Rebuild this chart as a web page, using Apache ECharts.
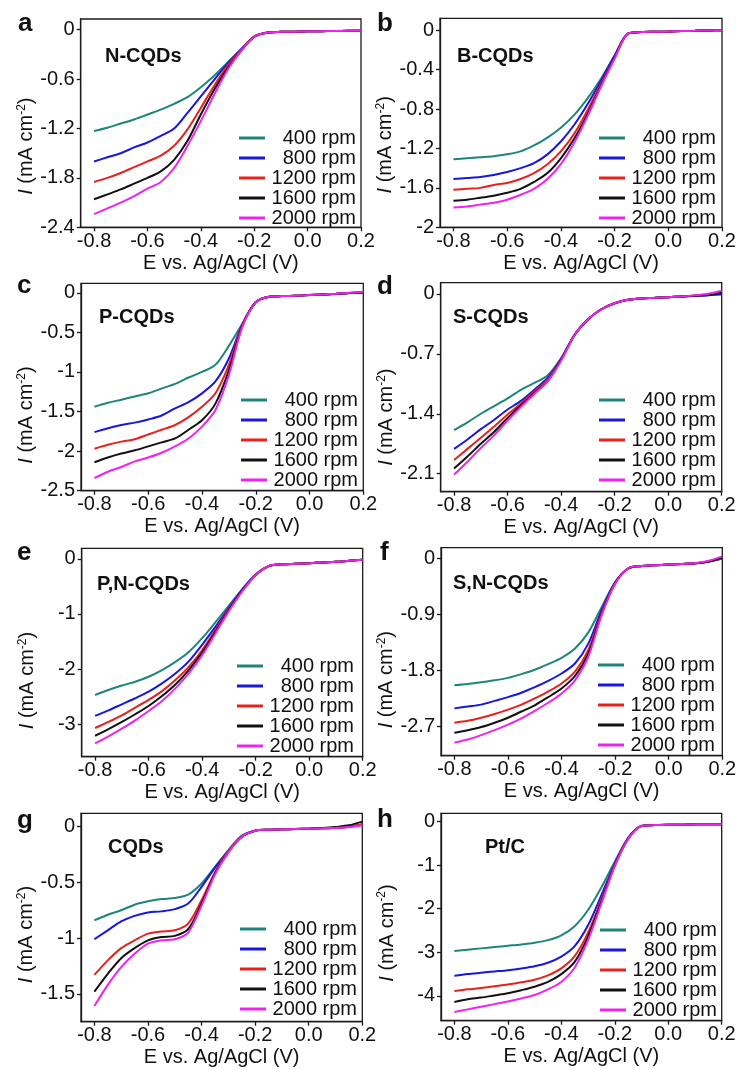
<!DOCTYPE html>
<html><head><meta charset="utf-8">
<script src="https://cdn.jsdelivr.net/npm/echarts@6/dist/echarts.min.js"></script>
<style>html,body{margin:0;padding:0;background:#fff}#c{width:740px;height:1070px}</style>
</head><body><div id="c"></div>
<script>
// ---------- data ----------
const E = [-0.8,-0.75,-0.7,-0.65,-0.6,-0.55,-0.5,-0.45,-0.4,-0.35,-0.3,-0.25,-0.2,-0.15,-0.1,-0.05,0,0.05,0.1,0.15,0.2];
const rpm = ['400 rpm','800 rpm','1200 rpm','1600 rpm','2000 rpm'];
const samples = ['N-CQDs','B-CQDs','P-CQDs','S-CQDs','P,N-CQDs','S,N-CQDs','CQDs','Pt/C'];
const letters = ['a','b','c','d','e','f','g','h'];
const xTicks = [-0.8,-0.6,-0.4,-0.2,0,0.2];
const yTicksA = [-2.4,-1.8,-1.2,-0.6,0];
const yTicksB = [-2,-1.6,-1.2,-0.8,-0.4,0];
const yTicksC = [-2.5,-2,-1.5,-1,-0.5,0];
const yTicksD = [-2.1,-1.4,-0.7,0];
const yTicksE = [-3,-2,-1,0];
const yTicksF = [-2.7,-1.8,-0.9,0];
const yTicksG = [-1.5,-1,-0.5,0];
const yTicksH = [-4,-3,-2,-1,0];

const a400  = [-1.23,-1.19,-1.14,-1.09,-1.03,-0.97,-0.90,-0.82,-0.70,-0.56,-0.40,-0.24,-0.085,-0.035,-0.026,-0.024,-0.020,-0.018,-0.016,-0.014,-0.012];
const a800  = [-1.60,-1.55,-1.50,-1.43,-1.37,-1.29,-1.20,-1.01,-0.81,-0.61,-0.41,-0.24,-0.085,-0.035,-0.026,-0.024,-0.020,-0.018,-0.016,-0.014,-0.012];
const a1200 = [-1.85,-1.80,-1.74,-1.67,-1.60,-1.53,-1.41,-1.21,-0.95,-0.68,-0.44,-0.25,-0.085,-0.035,-0.026,-0.024,-0.020,-0.018,-0.016,-0.014,-0.012];
const a1600 = [-2.06,-2.00,-1.94,-1.87,-1.80,-1.72,-1.58,-1.35,-1.03,-0.73,-0.47,-0.26,-0.085,-0.035,-0.026,-0.024,-0.020,-0.018,-0.016,-0.014,-0.012];
const a2000 = [-2.24,-2.17,-2.10,-2.02,-1.93,-1.85,-1.68,-1.41,-1.11,-0.79,-0.49,-0.26,-0.085,-0.035,-0.026,-0.024,-0.020,-0.018,-0.016,-0.014,-0.012];

const b400  = [-1.31,-1.30,-1.29,-1.28,-1.26,-1.23,-1.17,-1.09,-0.99,-0.86,-0.69,-0.49,-0.26,-0.035,-0.020,-0.017,-0.014,-0.010,-0.007,-0.003,0];
const b800  = [-1.51,-1.50,-1.49,-1.47,-1.44,-1.40,-1.35,-1.26,-1.13,-0.96,-0.75,-0.51,-0.26,-0.035,-0.020,-0.017,-0.014,-0.010,-0.007,-0.003,0];
const b1200 = [-1.62,-1.61,-1.60,-1.57,-1.55,-1.51,-1.45,-1.36,-1.23,-1.05,-0.81,-0.54,-0.28,-0.035,-0.020,-0.017,-0.014,-0.010,-0.007,-0.003,0];
const b1600 = [-1.73,-1.72,-1.70,-1.68,-1.65,-1.61,-1.54,-1.45,-1.30,-1.10,-0.85,-0.56,-0.28,-0.035,-0.020,-0.017,-0.014,-0.010,-0.007,-0.003,0];
const b2000 = [-1.80,-1.79,-1.77,-1.75,-1.72,-1.67,-1.61,-1.51,-1.36,-1.14,-0.87,-0.57,-0.29,-0.035,-0.020,-0.017,-0.014,-0.010,-0.007,-0.003,0];

const c400  = [-1.44,-1.39,-1.35,-1.31,-1.27,-1.21,-1.15,-1.07,-1.00,-0.91,-0.67,-0.39,-0.12,-0.05,-0.042,-0.038,-0.029,-0.021,-0.013,-0.004,0.004];
const c800  = [-1.76,-1.71,-1.67,-1.64,-1.60,-1.55,-1.46,-1.38,-1.27,-1.12,-0.83,-0.40,-0.12,-0.05,-0.042,-0.038,-0.029,-0.021,-0.013,-0.004,0.004];
const c1200 = [-1.97,-1.92,-1.88,-1.85,-1.79,-1.73,-1.67,-1.57,-1.44,-1.27,-0.91,-0.41,-0.12,-0.05,-0.042,-0.038,-0.029,-0.021,-0.013,-0.004,0.006];
const c1600 = [-2.14,-2.08,-2.03,-1.99,-1.94,-1.89,-1.84,-1.73,-1.61,-1.40,-0.98,-0.42,-0.12,-0.05,-0.042,-0.038,-0.029,-0.021,-0.013,-0.004,0.006];
const c2000 = [-2.34,-2.26,-2.20,-2.13,-2.08,-2.02,-1.94,-1.84,-1.69,-1.48,-1.04,-0.43,-0.12,-0.05,-0.042,-0.038,-0.029,-0.021,-0.012,0.000,0.012];

const d400  = [-1.59,-1.50,-1.40,-1.31,-1.22,-1.12,-1.04,-0.95,-0.75,-0.48,-0.30,-0.18,-0.11,-0.07,-0.054,-0.047,-0.039,-0.031,-0.023,-0.016,-0.005];
const d800  = [-1.81,-1.70,-1.58,-1.47,-1.35,-1.25,-1.12,-0.98,-0.76,-0.48,-0.30,-0.18,-0.11,-0.07,-0.054,-0.047,-0.039,-0.031,-0.023,-0.016,-0.005];
const d1200 = [-1.94,-1.81,-1.68,-1.55,-1.41,-1.28,-1.14,-1.00,-0.77,-0.48,-0.30,-0.18,-0.11,-0.07,-0.054,-0.047,-0.039,-0.031,-0.020,-0.005,0.020];
const d1600 = [-2.04,-1.90,-1.75,-1.61,-1.45,-1.30,-1.16,-1.02,-0.77,-0.48,-0.30,-0.18,-0.11,-0.07,-0.054,-0.047,-0.039,-0.031,-0.022,-0.010,0.010];
const d2000 = [-2.11,-1.96,-1.80,-1.65,-1.48,-1.32,-1.17,-1.02,-0.78,-0.48,-0.30,-0.18,-0.11,-0.07,-0.054,-0.047,-0.039,-0.030,-0.018,0.000,0.035];

const e400  = [-2.47,-2.38,-2.30,-2.23,-2.14,-2.02,-1.87,-1.69,-1.44,-1.15,-0.85,-0.55,-0.28,-0.13,-0.10,-0.09,-0.08,-0.067,-0.055,-0.036,-0.018];
const e800  = [-2.85,-2.75,-2.64,-2.53,-2.41,-2.26,-2.08,-1.86,-1.56,-1.23,-0.89,-0.56,-0.29,-0.13,-0.10,-0.09,-0.08,-0.067,-0.055,-0.036,-0.018];
const e1200 = [-3.07,-2.96,-2.84,-2.70,-2.56,-2.40,-2.20,-1.96,-1.66,-1.29,-0.91,-0.58,-0.29,-0.13,-0.10,-0.09,-0.08,-0.067,-0.055,-0.036,-0.018];
const e1600 = [-3.21,-3.09,-2.96,-2.82,-2.67,-2.49,-2.28,-2.02,-1.70,-1.32,-0.93,-0.58,-0.30,-0.13,-0.10,-0.09,-0.08,-0.067,-0.055,-0.036,-0.018];
const e2000 = [-3.35,-3.22,-3.08,-2.93,-2.76,-2.58,-2.35,-2.08,-1.75,-1.35,-0.95,-0.59,-0.30,-0.13,-0.10,-0.09,-0.08,-0.067,-0.055,-0.036,-0.018];

const f400  = [-2.04,-2.02,-1.99,-1.96,-1.92,-1.86,-1.79,-1.70,-1.60,-1.45,-1.19,-0.78,-0.38,-0.16,-0.125,-0.11,-0.10,-0.09,-0.08,-0.05,-0.005];
const f800  = [-2.41,-2.38,-2.35,-2.29,-2.23,-2.16,-2.07,-1.97,-1.85,-1.69,-1.37,-0.83,-0.39,-0.16,-0.125,-0.11,-0.10,-0.09,-0.08,-0.05,-0.005];
const f1200 = [-2.64,-2.61,-2.56,-2.50,-2.43,-2.35,-2.25,-2.14,-2.01,-1.82,-1.47,-0.87,-0.40,-0.16,-0.125,-0.11,-0.10,-0.09,-0.08,-0.05,0.005];
const f1600 = [-2.80,-2.76,-2.71,-2.64,-2.56,-2.46,-2.36,-2.23,-2.09,-1.89,-1.53,-0.89,-0.40,-0.16,-0.125,-0.11,-0.10,-0.09,-0.08,-0.05,0.01];
const f2000 = [-2.96,-2.91,-2.84,-2.76,-2.67,-2.57,-2.45,-2.32,-2.17,-1.96,-1.58,-0.91,-0.41,-0.16,-0.125,-0.11,-0.10,-0.09,-0.075,-0.04,0.03];

const g400  = [-0.84,-0.79,-0.75,-0.70,-0.67,-0.65,-0.64,-0.61,-0.51,-0.36,-0.21,-0.08,-0.036,-0.027,-0.024,-0.021,-0.018,-0.015,-0.009,0.000,0.02];
const g800  = [-1.01,-0.93,-0.85,-0.80,-0.77,-0.76,-0.74,-0.69,-0.54,-0.37,-0.22,-0.09,-0.036,-0.027,-0.024,-0.021,-0.018,-0.015,-0.009,0.000,0.02];
const g1200 = [-1.33,-1.20,-1.09,-1.02,-0.96,-0.94,-0.93,-0.87,-0.66,-0.41,-0.22,-0.09,-0.036,-0.027,-0.024,-0.021,-0.018,-0.015,-0.009,0.000,0.02];
const g1600 = [-1.48,-1.32,-1.18,-1.09,-1.02,-0.99,-0.98,-0.92,-0.69,-0.42,-0.23,-0.09,-0.036,-0.027,-0.024,-0.021,-0.018,-0.012,-0.002,0.012,0.045];
const g2000 = [-1.61,-1.42,-1.26,-1.14,-1.05,-1.02,-1.01,-0.95,-0.71,-0.43,-0.23,-0.09,-0.036,-0.027,-0.024,-0.021,-0.018,-0.015,-0.010,-0.004,0.01];

const h400  = [-2.97,-2.94,-2.91,-2.88,-2.85,-2.82,-2.78,-2.72,-2.61,-2.40,-2.03,-1.51,-0.92,-0.38,-0.10,-0.08,-0.07,-0.07,-0.06,-0.06,-0.06];
const h800  = [-3.54,-3.50,-3.47,-3.44,-3.41,-3.37,-3.32,-3.24,-3.10,-2.86,-2.38,-1.69,-0.97,-0.38,-0.10,-0.08,-0.07,-0.07,-0.06,-0.06,-0.06];
const h1200 = [-3.89,-3.85,-3.82,-3.78,-3.74,-3.69,-3.63,-3.53,-3.37,-3.09,-2.55,-1.79,-1.00,-0.39,-0.10,-0.08,-0.07,-0.07,-0.06,-0.06,-0.06];
const h1600 = [-4.14,-4.08,-4.04,-3.99,-3.94,-3.87,-3.79,-3.68,-3.50,-3.22,-2.64,-1.84,-1.01,-0.39,-0.10,-0.08,-0.07,-0.07,-0.06,-0.06,-0.06];
const h2000 = [-4.37,-4.31,-4.25,-4.19,-4.13,-4.06,-3.98,-3.85,-3.68,-3.35,-2.72,-1.88,-1.02,-0.40,-0.10,-0.08,-0.07,-0.07,-0.06,-0.06,-0.06];

// ---------- layout & style ----------
const COLORS = ['#1f857a','#1717e0','#e8211c','#111111','#f022f0'];
const FONT = '"Liberation Sans", Arial, sans-serif';
const INK = '#111';
const AX = '#1a1a1a';

const panels = [
  {data:[a400,a800,a1200,a1600,a2000], yTicks:yTicksA, yMin:-2.4,  yMax:0.13, grid:{left:80.7, top:19,    width:280.3, height:208.3}, letter:[18,11],   title:[105,46],   legend:[239,128], shift:23},
  {data:[b400,b800,b1200,b1600,b2000], yTicks:yTicksB, yMin:-2,    yMax:0.12, grid:{left:440,  top:18.3,  width:282,   height:209},   letter:[377,11],  title:[457,46],   legend:[599,128], shift:22},
  {data:[c400,c800,c1200,c1600,c2000], yTicks:yTicksC, yMin:-2.5,  yMax:0.12, grid:{left:81,   top:283.3, width:282.3, height:207.4}, letter:[17,273],  title:[99,307],   legend:[241,390], shift:28},
  {data:[d400,d800,d1200,d1600,d2000], yTicks:yTicksD, yMin:-2.31, yMax:0.13, grid:{left:440.7,top:282.7, width:281,   height:209},   letter:[377,274], title:[453,307],  legend:[599,390], shift:30},
  {data:[e400,e800,e1200,e1600,e2000], yTicks:yTicksE, yMin:-3.59, yMax:0.19, grid:{left:81.7, top:548.3, width:281,   height:208.4}, letter:[17,540],  title:[97,574],   legend:[237,656], shift:28},
  {data:[f400,f800,f1200,f1600,f2000], yTicks:yTicksF, yMin:-3.17, yMax:0.17, grid:{left:441,  top:547.7, width:281.3, height:208},   letter:[380,540], title:[453,573],  legend:[598,655], shift:28},
  {data:[g400,g800,g1200,g1600,g2000], yTicks:yTicksG, yMin:-1.75, yMax:0.12, grid:{left:81,   top:813.3, width:281.3, height:208.4}, letter:[17,808],  title:[108,837],  legend:[240,919], shift:17},
  {data:[h400,h800,h1200,h1600,h2000], yTicks:yTicksH, yMin:-4.57, yMax:0.19, grid:{left:441,  top:813.3, width:280.7, height:207.4}, letter:[377,807], title:[485,837],  legend:[600,920], shift:16}
];

const option = {animation:false, backgroundColor:'#fff', grid:[], xAxis:[], yAxis:[], series:[], legend:[], title:[]};

panels.forEach((p, k) => {
  option.grid.push(Object.assign({show:true, borderColor:AX, borderWidth:1.3, backgroundColor:'transparent', containLabel:false}, p.grid));
  option.xAxis.push({
    type:'value', gridIndex:k, min:-0.85, max:0.2,
    name:'E vs. Ag/AgCl (V)', nameLocation:'middle', nameGap:26,
    nameTextStyle:{fontSize:20, color:INK, fontFamily:FONT},
    axisLine:{show:true, onZero:false, lineStyle:{color:AX, width:1.3}},
    axisTick:{show:true, inside:false, length:4, customValues:xTicks, lineStyle:{color:AX, width:1.3}},
    axisLabel:{customValues:xTicks, formatter:v => Number(v).toFixed(1), fontSize:20, color:INK, fontFamily:FONT, margin:4},
    splitLine:{show:false}
  });
  option.yAxis.push({
    type:'value', gridIndex:k, min:p.yMin, max:p.yMax,
    name:'{i|I} {n|(mA cm}{s|-2}{n|)}', nameLocation:'middle', nameRotate:90, nameGap:43,
    nameTextStyle:{fontSize:20, color:INK, fontFamily:FONT, padding:[0, 2*p.shift, 0, 0],
      rich:{
        i:{fontSize:20, fontStyle:'italic', fontFamily:FONT, color:INK, lineHeight:22},
        n:{fontSize:20, fontFamily:FONT, color:INK, lineHeight:22},
        s:{fontSize:12, fontFamily:FONT, color:INK, lineHeight:12, verticalAlign:'top'}
      }},
    axisLine:{show:true, onZero:false, lineStyle:{color:AX, width:1.3}},
    axisTick:{show:true, inside:false, length:4, customValues:p.yTicks, lineStyle:{color:AX, width:1.3}},
    axisLabel:{customValues:p.yTicks, formatter:v => String(Number(Number(v).toFixed(2))), fontSize:20, color:INK, fontFamily:FONT, margin:6},
    splitLine:{show:false}
  });
  option.title.push({text:letters[k], left:p.letter[0], top:p.letter[1], padding:0,
    textStyle:{fontSize:26, fontWeight:'bold', color:INK, fontFamily:FONT}});
  option.title.push({text:samples[k], left:p.title[0], top:p.title[1], padding:0,
    textStyle:{fontSize:20, fontWeight:'bold', color:INK, fontFamily:FONT}});
  option.legend.push({
    data:rpm, orient:'vertical', left:p.legend[0], top:p.legend[1], padding:0, itemGap:0,
    itemWidth:26, itemHeight:3, icon:'rect', selectedMode:false,
    formatter: name => '{r|' + name + '}',
    textStyle:{fontSize:20, color:INK, fontFamily:FONT, lineHeight:19,
      rich:{r:{width:86, align:'right', fontSize:20, lineHeight:19, fontFamily:FONT, color:INK}}}
  });
  p.data.forEach((vals, j) => {
    option.series.push({
      type:'line', name:rpm[j], xAxisIndex:k, yAxisIndex:k,
      data:E.map((e, i) => [e, vals[i]]),
      symbol:'none', showSymbol:false, smooth:0.3,
      lineStyle:{color:COLORS[j], width:2}, itemStyle:{color:COLORS[j]},
      emphasis:{disabled:true}, z:2+j
    });
  });
});

const chart = echarts.init(document.getElementById('c'), null, {renderer:'canvas'});
chart.setOption(option);
</script>
</body></html>
